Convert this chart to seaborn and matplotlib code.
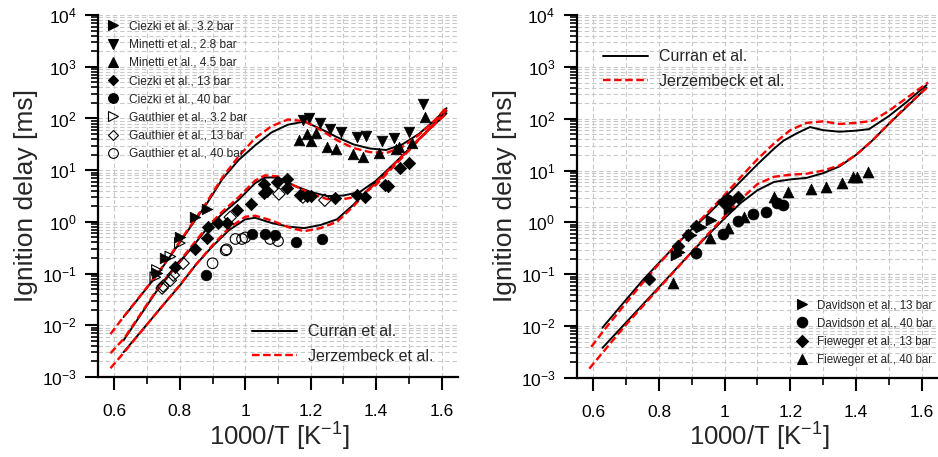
import numpy as np
import pandas as pd
import matplotlib
matplotlib.use("Agg")
import matplotlib.pyplot as plt
import seaborn as sns
from matplotlib.ticker import MultipleLocator, LogLocator, FuncFormatter, NullFormatter, LogFormatterMathtext
from matplotlib.lines import Line2D

sns.set_style("ticks")
plt.rcParams["font.family"] = ["Liberation Sans", "DejaVu Sans"]
plt.rcParams["mathtext.fontset"] = "custom"
plt.rcParams["mathtext.rm"] = "Liberation Sans"
plt.rcParams["mathtext.it"] = "Liberation Sans:italic"
plt.rcParams["mathtext.bf"] = "Liberation Sans:bold"

# ---------------- data (x = 1000/T, values given as log10 of ignition delay in ms) ----------------
# Left panel model curves
x_l_c32 = [0.628, 0.68, 0.73, 0.78, 0.83, 0.88, 0.93, 0.98, 1.03, 1.08, 1.13, 1.18, 1.23, 1.28, 1.33, 1.38, 1.43, 1.48, 1.53, 1.58, 1.615]
lg_l_c32 = [-1.84, -1.43, -1.03, -0.58, -0.12, 0.33, 0.83, 1.20, 1.48, 1.73, 1.88, 1.94, 1.80, 1.64, 1.50, 1.42, 1.39, 1.50, 1.70, 1.97, 2.20]
x_l_j32 = [0.588, 0.63, 0.68, 0.73, 0.78, 0.83, 0.88, 0.93, 0.98, 1.03, 1.08, 1.13, 1.18, 1.23, 1.28, 1.33, 1.38, 1.43, 1.48, 1.53, 1.58, 1.615]
lg_l_j32 = [-2.17, -1.82, -1.42, -1.02, -0.56, -0.10, 0.36, 0.86, 1.27, 1.62, 1.85, 1.98, 1.95, 1.78, 1.58, 1.43, 1.35, 1.33, 1.45, 1.68, 1.97, 2.22]

x_l_c13 = [0.628, 0.68, 0.73, 0.78, 0.83, 0.88, 0.93, 0.98, 1.03, 1.06, 1.10, 1.15, 1.20, 1.25, 1.30, 1.35, 1.40, 1.45, 1.50, 1.55, 1.615]
lg_l_c13 = [-2.29, -1.80, -1.33, -0.93, -0.55, -0.15, 0.16, 0.43, 0.75, 0.86, 0.86, 0.70, 0.58, 0.50, 0.51, 0.58, 0.80, 1.10, 1.40, 1.72, 2.15]
x_l_j13 = [0.588, 0.63, 0.68, 0.73, 0.78, 0.83, 0.88, 0.93, 0.98, 1.03, 1.06, 1.10, 1.15, 1.20, 1.25, 1.30, 1.35, 1.40, 1.45, 1.50, 1.55, 1.615]
lg_l_j13 = [-2.54, -2.25, -1.78, -1.31, -0.91, -0.52, -0.12, 0.20, 0.48, 0.80, 0.90, 0.88, 0.70, 0.55, 0.44, 0.44, 0.50, 0.72, 1.05, 1.38, 1.72, 2.17]

x_l_c40 = [0.628, 0.70, 0.75, 0.80, 0.85, 0.90, 0.95, 1.00, 1.03, 1.08, 1.13, 1.18, 1.23, 1.28, 1.33, 1.38, 1.43, 1.48, 1.53, 1.615]
lg_l_c40 = [-2.52, -1.98, -1.60, -1.23, -0.82, -0.47, -0.16, 0.05, 0.08, -0.02, -0.09, -0.12, -0.06, 0.05, 0.33, 0.66, 0.96, 1.28, 1.60, 2.10]
x_l_j40 = [0.588, 0.63, 0.70, 0.75, 0.80, 0.85, 0.90, 0.95, 1.00, 1.03, 1.08, 1.13, 1.18, 1.23, 1.28, 1.33, 1.38, 1.43, 1.48, 1.53, 1.615]
lg_l_j40 = [-2.83, -2.52, -1.98, -1.60, -1.22, -0.82, -0.45, -0.12, 0.10, 0.12, 0.03, -0.10, -0.18, -0.12, 0.00, 0.30, 0.64, 0.95, 1.28, 1.60, 2.10]

# Left panel experiments
x_ciezki32 = [0.730, 0.756, 0.800, 0.847, 0.883]
lg_ciezki32 = [-0.98, -0.70, -0.29, 0.09, 0.25]
x_minetti28 = [1.176, 1.195, 1.228, 1.259, 1.292, 1.341, 1.368, 1.417, 1.454, 1.500, 1.542]
lg_minetti28 = [1.97, 2.00, 1.91, 1.80, 1.74, 1.64, 1.66, 1.56, 1.62, 1.74, 2.28]
x_minetti45 = [1.164, 1.188, 1.216, 1.200, 1.250, 1.277, 1.330, 1.360, 1.410, 1.460, 1.470, 1.510, 1.548]
lg_minetti45 = [1.58, 1.70, 1.72, 1.56, 1.45, 1.41, 1.31, 1.25, 1.33, 1.41, 1.44, 1.52, 2.03]
x_ciezki13 = [0.786, 0.847, 0.884, 0.887, 0.918, 0.945, 0.975, 1.018, 1.057, 1.057, 1.065, 1.096, 1.127, 1.127, 1.167, 1.190, 1.200, 1.274, 1.340, 1.365, 1.426, 1.435, 1.472, 1.500]
lg_ciezki13 = [-0.88, -0.52, -0.31, -0.10, -0.02, -0.02, 0.23, 0.35, 0.55, 0.73, 0.60, 0.77, 0.83, 0.65, 0.52, 0.50, 0.50, 0.46, 0.52, 0.48, 0.71, 0.69, 1.04, 1.14]
x_ciezki40 = [0.880, 1.020, 1.060, 1.090, 1.155, 1.234]
lg_ciezki40 = [-1.03, -0.24, -0.24, -0.26, -0.39, -0.33]
x_gauth32 = [0.725, 0.730, 0.771, 0.800]
lg_gauth32 = [-1.07, -0.93, -0.67, -0.41]
x_gauth13 = [0.746, 0.749, 0.771, 0.780, 0.810, 0.954, 1.103, 1.176, 1.243]
lg_gauth13 = [-1.28, -1.24, -1.13, -1.03, -0.80, 0.09, 0.54, 0.48, 0.42]
x_gauth40 = [0.900, 0.940, 0.943, 0.970, 0.990, 1.000, 1.076, 1.100]
lg_gauth40 = [-0.80, -0.55, -0.53, -0.33, -0.33, -0.30, -0.33, -0.37]

# Right panel model curves
x_r_c13 = [0.628, 0.70, 0.75, 0.80, 0.85, 0.90, 0.95, 1.00, 1.05, 1.10, 1.15, 1.18, 1.22, 1.26, 1.30, 1.35, 1.40, 1.44, 1.50, 1.55, 1.615]
lg_r_c13 = [-2.03, -1.49, -1.12, -0.78, -0.45, -0.13, 0.16, 0.48, 0.80, 1.12, 1.42, 1.58, 1.72, 1.84, 1.78, 1.75, 1.77, 1.80, 2.05, 2.30, 2.65]
x_r_j13 = [0.594, 0.63, 0.70, 0.75, 0.80, 0.85, 0.90, 0.95, 1.00, 1.05, 1.10, 1.15, 1.20, 1.25, 1.30, 1.35, 1.40, 1.45, 1.50, 1.55, 1.62]
lg_r_j13 = [-2.40, -2.10, -1.55, -1.17, -0.80, -0.45, -0.12, 0.20, 0.53, 0.88, 1.22, 1.52, 1.78, 1.92, 1.95, 1.90, 1.92, 1.96, 2.15, 2.38, 2.70]
x_r_c40 = [0.628, 0.70, 0.75, 0.80, 0.85, 0.90, 0.95, 1.00, 1.05, 1.10, 1.15, 1.20, 1.25, 1.30, 1.35, 1.40, 1.45, 1.50, 1.55, 1.615]
lg_r_c40 = [-2.42, -1.93, -1.59, -1.25, -0.91, -0.57, -0.24, 0.08, 0.38, 0.62, 0.78, 0.83, 0.86, 0.95, 1.08, 1.30, 1.58, 1.90, 2.20, 2.60]
x_r_j40 = [0.588, 0.63, 0.70, 0.75, 0.80, 0.85, 0.90, 0.95, 1.00, 1.05, 1.10, 1.15, 1.20, 1.25, 1.30, 1.35, 1.40, 1.45, 1.50, 1.55, 1.62]
lg_r_j40 = [-2.82, -2.50, -1.97, -1.62, -1.27, -0.92, -0.57, -0.22, 0.12, 0.45, 0.74, 0.88, 0.92, 0.94, 1.00, 1.10, 1.30, 1.58, 1.90, 2.22, 2.62]

# Right panel experiments
x_david13 = [0.851, 0.860, 0.897, 0.927, 0.958, 1.013]
lg_david13 = [-0.62, -0.58, -0.24, -0.08, 0.05, 0.26]
x_david40 = [0.912, 0.994, 1.040, 1.088, 1.125, 1.160, 1.178]
lg_david40 = [-0.59, -0.22, 0.03, 0.16, 0.20, 0.38, 0.33]
x_fiew13 = [0.770, 0.857, 0.887, 0.912, 0.994, 1.007, 1.015, 1.040]
lg_fiew13 = [-1.09, -0.46, -0.25, -0.06, 0.39, 0.45, 0.42, 0.50]
x_fiew40 = [0.842, 0.955, 1.010, 1.058, 1.150, 1.193, 1.262, 1.310, 1.358, 1.392, 1.404, 1.438]
lg_fiew40 = [-1.16, -0.30, -0.10, 0.11, 0.50, 0.58, 0.64, 0.69, 0.76, 0.88, 0.88, 0.97]

left_labels = ["Ciezki et al., 3.2 bar", "Minetti et al., 2.8 bar", "Minetti et al., 4.5 bar",
               "Ciezki et al., 13 bar", "Ciezki et al., 40 bar", "Gauthier et al., 3.2 bar",
               "Gauthier et al., 13 bar", "Gauthier et al., 40 bar"]
right_labels = ["Davidson et al., 13 bar", "Davidson et al., 40 bar",
                "Fieweger et al., 13 bar", "Fieweger et al., 40 bar"]
model_labels = ["Curran et al.", "Jerzembeck et al."]

RED = "#ff0000"
DASH = (3.2, 1.5)
CURRAN_KW = dict(color="black", linewidth=1.4)
JERZ_KW = dict(color=RED, linewidth=1.7, dashes=DASH)


def tau(lg):
    return np.power(10.0, np.asarray(lg, dtype=float))


def draw_curve(ax, x, lg, kw):
    df = pd.DataFrame({"x": x, "tau": tau(lg)})
    line_kw = dict(kw)
    dashes = line_kw.pop("dashes", None)
    sns.lineplot(data=df, x="x", y="tau", ax=ax, sort=False, estimator=None, legend=False, **line_kw)
    if dashes is not None:
        ax.lines[-1].set_dashes(dashes)
    ax.lines[-1].set_zorder(4)


def draw_points(ax, x, lg, marker, filled=True, s=42):
    df = pd.DataFrame({"x": x, "tau": tau(lg)})
    if filled:
        sns.scatterplot(data=df, x="x", y="tau", ax=ax, marker=marker, s=s, color="black",
                        edgecolor="black", linewidth=0.5, legend=False, zorder=5)
    else:
        sns.scatterplot(data=df, x="x", y="tau", ax=ax, marker=marker, s=s, facecolor="none",
                        edgecolor="black", linewidth=0.8, legend=False, zorder=5)


def style_axes(ax):
    ax.set_yscale("log")
    ax.set_ylim(1e-3, 1e4)
    ax.set_xlim(0.55, 1.65)
    ax.xaxis.set_major_locator(MultipleLocator(0.2))
    ax.xaxis.set_minor_locator(MultipleLocator(0.1))
    ax.xaxis.set_major_formatter(FuncFormatter(lambda v, p: f"{v:g}"))
    ax.yaxis.set_major_locator(LogLocator(base=10, numticks=20))
    ax.yaxis.set_minor_locator(LogLocator(base=10, subs=np.arange(2, 10), numticks=20))
    ax.yaxis.set_major_formatter(LogFormatterMathtext())
    ax.yaxis.set_minor_formatter(NullFormatter())
    gkw = dict(color="#c9c9c9", linestyle=(0, (4, 2.5)), linewidth=0.8)
    ax.grid(True, which="both", axis="x", **gkw)
    ax.grid(True, which="both", axis="y", **gkw)
    ax.set_axisbelow(True)
    for sp in ["top", "right"]:
        ax.spines[sp].set_visible(False)
    for sp in ["left", "bottom"]:
        ax.spines[sp].set_linewidth(1.6)
        ax.spines[sp].set_color("black")
    ax.tick_params(which="major", direction="out", length=9.5, width=1.5,
                   colors="black", pad=5)
    ax.tick_params(which="minor", direction="out", length=5, width=1.2, colors="black")
    ax.tick_params(axis="x", which="major", pad=10, labelsize=12.5)
    ax.tick_params(axis="y", which="major", pad=6, labelsize=12.5)
    ax.set_xlabel("")
    ax.set_ylabel("")


fig = plt.figure(figsize=(9.38, 4.57), dpi=100)
axL = fig.add_axes([0.1045, 0.175, 0.3838, 0.792])
axR = fig.add_axes([0.615, 0.173, 0.385, 0.794])

# ---- left panel ----
for x, lg in [(x_l_c32, lg_l_c32), (x_l_c13, lg_l_c13), (x_l_c40, lg_l_c40)]:
    draw_curve(axL, x, lg, CURRAN_KW)
for x, lg in [(x_l_j32, lg_l_j32), (x_l_j13, lg_l_j13), (x_l_j40, lg_l_j40)]:
    draw_curve(axL, x, lg, JERZ_KW)

left_series = [
    (x_ciezki32, lg_ciezki32, ">", True),
    (x_minetti28, lg_minetti28, "v", True),
    (x_minetti45, lg_minetti45, "^", True),
    (x_ciezki13, lg_ciezki13, "D", True),
    (x_ciezki40, lg_ciezki40, "o", True),
    (x_gauth32, lg_gauth32, ">", False),
    (x_gauth13, lg_gauth13, "D", False),
    (x_gauth40, lg_gauth40, "o", False),
]
for x, lg, m, f in left_series:
    draw_points(axL, x, lg, m, f, s=40 if m == "D" else 58)

# ---- right panel ----
for x, lg in [(x_r_c13, lg_r_c13), (x_r_c40, lg_r_c40)]:
    draw_curve(axR, x, lg, CURRAN_KW)
for x, lg in [(x_r_j13, lg_r_j13), (x_r_j40, lg_r_j40)]:
    draw_curve(axR, x, lg, JERZ_KW)

right_series = [
    (x_david13, lg_david13, ">", True),
    (x_david40, lg_david40, "o", True),
    (x_fiew13, lg_fiew13, "D", True),
    (x_fiew40, lg_fiew40, "^", True),
]
for x, lg, m, f in right_series:
    draw_points(axR, x, lg, m, f, s=42 if m == "D" else 62)

style_axes(axL)
style_axes(axR)


def marker_handle(m, filled, ms=6.5):
    return Line2D([], [], linestyle="none", marker=m, markersize=ms if m != "D" else ms * 0.8,
                  markerfacecolor="black" if filled else "none", markeredgecolor="black",
                  markeredgewidth=0.8)


def line_handles():
    h1 = Line2D([], [], color="black", linewidth=1.4)
    h2 = Line2D([], [], color=RED, linewidth=1.7, dashes=DASH)
    return [h1, h2]


legL = axL.legend([marker_handle(m, f, 7) for _, _, m, f in left_series], left_labels,
                  loc="upper left", bbox_to_anchor=(0.022, 0.985), frameon=False, fontsize=8.6,
                  handlelength=1.2, handletextpad=0.75, labelspacing=0.52, borderpad=0, borderaxespad=0)
axL.add_artist(legL)
axL.legend(line_handles(), model_labels, loc="upper left", bbox_to_anchor=(0.428, 0.146),
           frameon=False, fontsize=11.5, handlelength=2.8, handletextpad=0.7, labelspacing=0.6,
           borderpad=0, borderaxespad=0)

legR = axR.legend(line_handles(), model_labels, loc="upper left", bbox_to_anchor=(0.072, 0.906),
                  frameon=False, fontsize=11.5, handlelength=2.8, handletextpad=0.7, labelspacing=0.6,
                  borderpad=0, borderaxespad=0)
axR.add_artist(legR)
axR.legend([marker_handle(m, f, 7.5) for _, _, m, f in right_series], right_labels,
           loc="upper left", bbox_to_anchor=(0.604, 0.2165), frameon=False, fontsize=8.3,
           handlelength=1.2, handletextpad=0.75, labelspacing=0.53, borderpad=0, borderaxespad=0)

W, H = 938, 457
fig.text(26 / W, 1 - 195 / H, "Ignition delay [ms]", rotation=90, ha="center", va="center", fontsize=19)
fig.text(505 / W, 1 - 195 / H, "Ignition delay [ms]", rotation=90, ha="center", va="center", fontsize=19)
fig.text(279 / W, 1 - 437 / H, "1000/T [K$^{-1}$]", ha="center", va="center", fontsize=18.5)
fig.text(759 / W, 1 - 437 / H, "1000/T [K$^{-1}$]", ha="center", va="center", fontsize=18.5)

fig.savefig("out.png", dpi=100)
